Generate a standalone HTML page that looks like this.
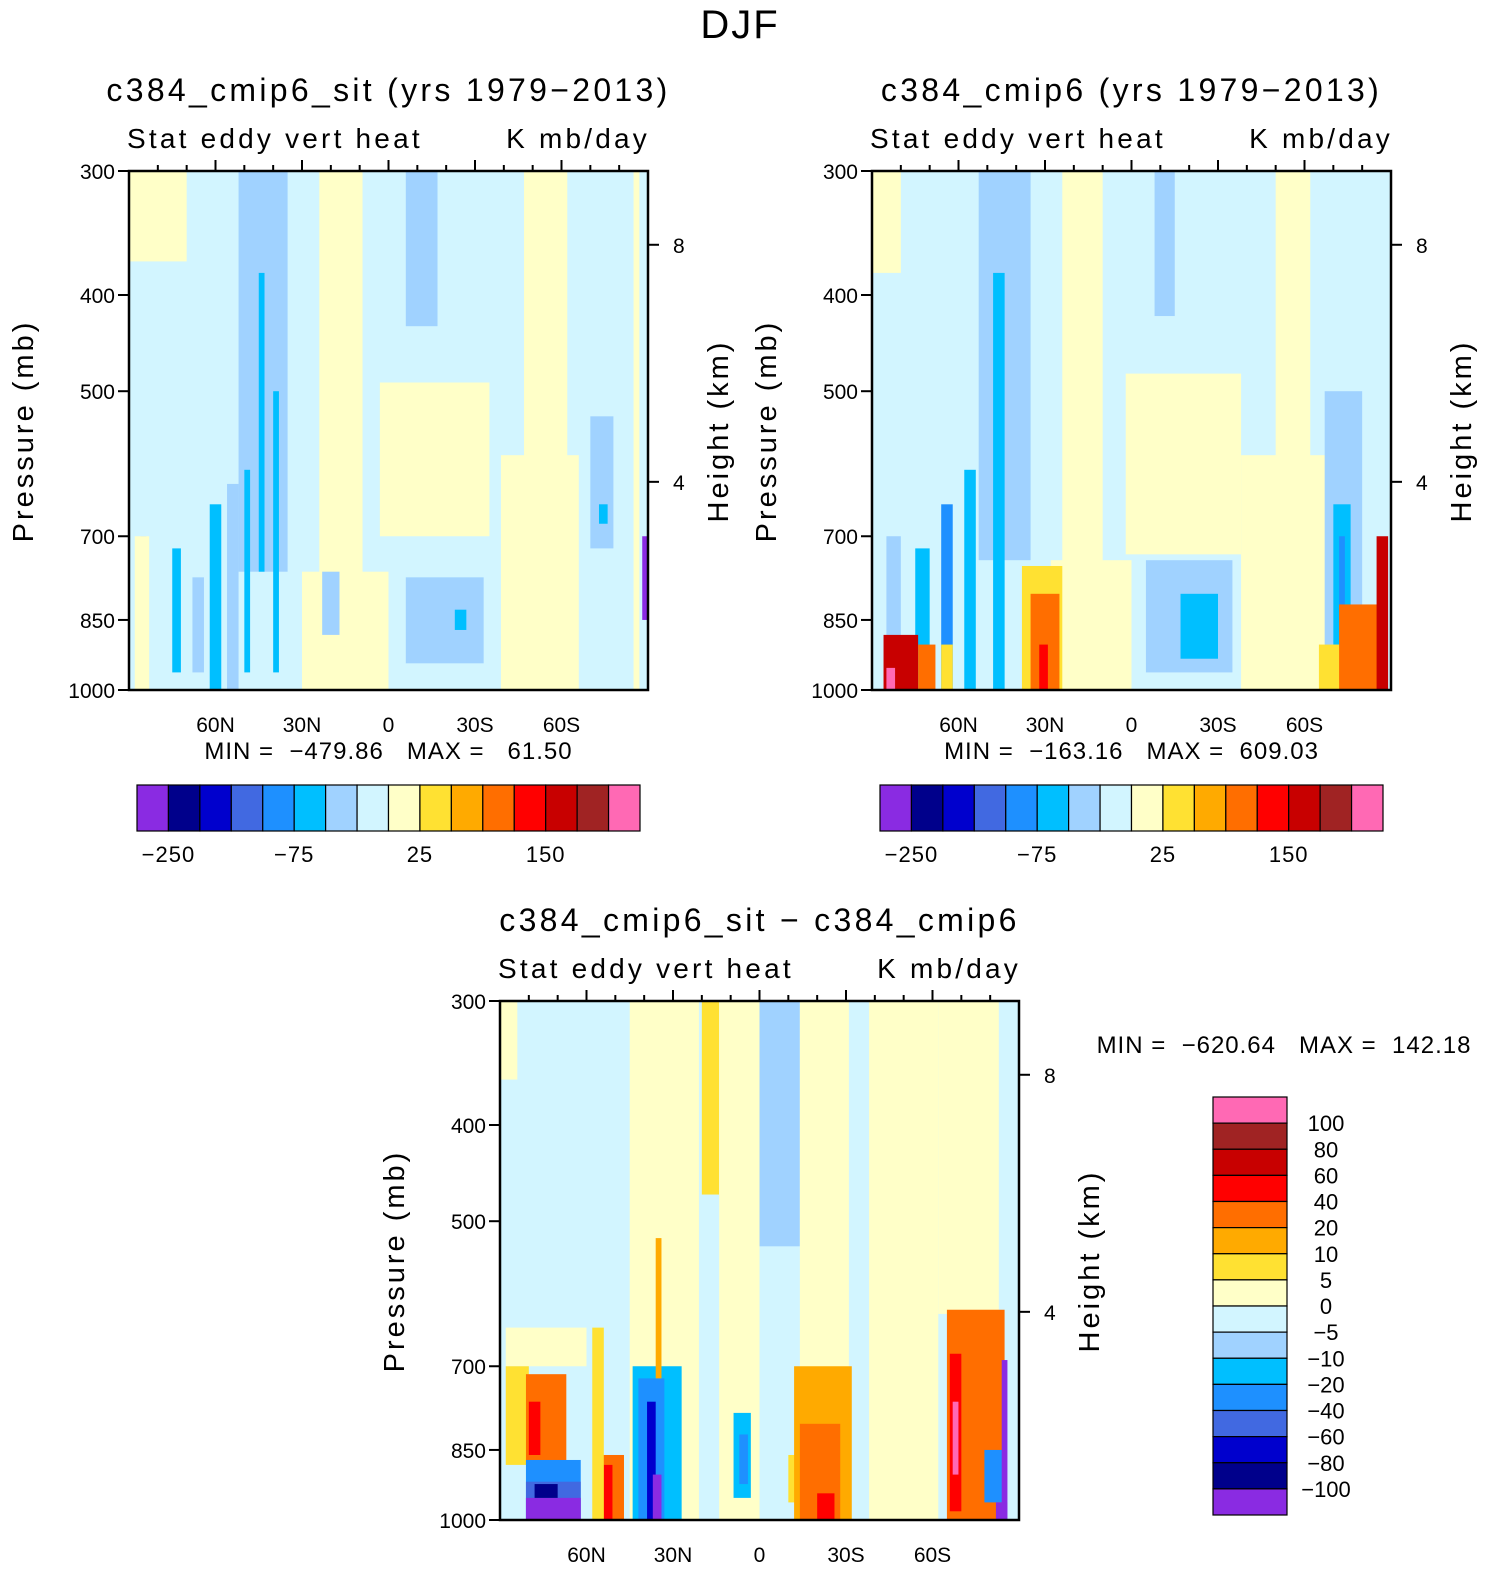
<!DOCTYPE html>
<html><head><meta charset="utf-8">
<style>
body{margin:0;background:#fff;}
svg text{font-family:"Liberation Sans",sans-serif;fill:#000;}
</style></head>
<body>
<svg id="fig" width="1505" height="1575" viewBox="0 0 1505 1575"></svg>
<script>
// ---- data ----
const palette = ["#8A2BE2","#00008B","#0000CD","#4169E1","#1E90FF","#00BFFF","#A0D2FF","#D2F5FF","#FFFFC8","#FFE132","#FFAA00","#FF6E00","#FF0000","#C80000","#A02323","#FF69B4"];
const latTicks = [60,30,0,-30,-60];
const latTickLabels = ["60N","30N","0","30S","60S"];
const pTicks = [300,400,500,700,850,1000];
const heightTicks = [8,4];
const heightPressure = [356,617];
const topBarLabels = ["-250","-75","25","150"];
const topBarLabelIdx = [1,5,9,13];
const diffLevels = ["100","80","60","40","20","10","5","0","-5","-10","-20","-40","-60","-80","-100"];
// field patches: [lat1, lat2, pTop, pBottom, colorIndex]
const fieldA = [
 [90,70,300,370,8],[52,35,300,760,6],[24,9,300,1000,8],[30,0,760,1000,8],
 [-6,-17,300,430,6],[3,-35,490,700,8],[-47,-62,300,1000,8],[-39,-66,580,1000,8],
 [-6,-33,770,940,6],[-23,-27,830,870,5],[23,17,760,880,6],
 [86,84,700,1000,6],[75,72,720,960,5],[68,64,770,960,6],[62,58,650,1000,5],[56,52,620,1000,6],
 [50,48,600,960,5],[45,43,380,760,5],[40,38,500,960,5],[88,83,700,1000,8],
 [-70,-78,530,720,6],[-73,-76,650,680,5],[-85,-87,300,1000,8],[-88,-90,700,850,0]
];
const fieldB = [
 [90,80,300,380,8],[53,35,300,740,6],[24,10,300,1000,8],[28,0,740,1000,8],
 [-8,-15,300,420,6],[2,-38,480,730,8],[-50,-62,300,1000,8],[-38,-70,580,1000,8],
 [-5,-35,740,960,6],[-17,-30,800,930,5],
 [85,80,700,1000,6],[75,70,720,1000,5],[66,62,650,1000,4],[58,54,600,1000,5],[48,44,380,1000,5],
 [86,74,880,1000,13],[85,82,950,1000,15],[74,68,900,1000,11],[66,62,900,1000,9],
 [38,24,750,1000,9],[35,25,800,1000,11],[32,29,900,1000,12],
 [-67,-80,500,930,6],[-70,-76,650,900,5],[-72,-74,700,850,4],[-65,-75,900,1000,9],[-72,-88,820,1000,11],[-85,-89,700,1000,13]
];
const fieldD = [
 [90,84,300,360,8],[45,21,300,1000,8],[20,14,300,470,9],[14,0,300,1000,8],[0,-14,300,530,6],
 [-14,-31,300,1000,8],[-38,-62,300,1000,8],[-62,-83,300,620,8],[88,60,640,700,8],
 [88,80,700,880,9],[81,67,713,880,11],[80,76,760,860,12],
 [81,62,870,1000,4],[81,62,915,1000,3],[81,62,950,1000,0],[78,70,920,950,1],
 [56,47,860,1000,11],[54,51,880,1000,12],[58,54,640,1000,9],
 [44,27,700,1000,5],[42,33,720,1000,4],[39,36,760,1000,2],[37,34,900,1000,0],
 [36,34,520,720,10],[9,3,780,950,5],[7,4,820,920,4],[-10,-14,860,960,9],
 [-12,-32,700,1000,10],[-14,-28,800,1000,11],[-20,-26,940,1000,12],
 [-65,-85,614,1000,11],[-66,-70,680,980,12],[-67,-69,760,900,15],
 [-78,-85,850,960,4],[-82,-86,960,1000,0],[-84,-86,690,1000,0],[-86,-90,640,1000,7]
];
// ---- drawing ----
const svg = document.getElementById('fig');
const NS = "http://www.w3.org/2000/svg";
function mk(tag, attrs, parent){const e=document.createElementNS(NS,tag);for(const k in attrs)e.setAttribute(k,attrs[k]);(parent||svg).appendChild(e);return e;}
function txt(s,x,y,size,anchor,parent,rot){const t=mk('text',{x:x,y:y,'font-size':size,'text-anchor':anchor||'middle'},parent);if(rot)t.setAttribute('transform','rotate(-90 '+x+' '+y+')');t.textContent=s.replace(/-/g,'\u2212');return t;}

const title = txt("DJF",740,38,40);


title.setAttribute('letter-spacing','2');

function panel(name,x0,y0,field,ttl,minmax){
  const w=519,h=519;
  const g=mk('g',{});
  
  
  const X=lat=>x0+(90-lat)/180*w;
  const Y=p=>y0+Math.log(p/300)/Math.log(1000/300)*h;
  const base=mk('rect',{x:x0,y:y0,width:w,height:h,fill:palette[7]},g);
  
  
  field.forEach(f=>{
    const r=mk('rect',{x:X(f[0]),y:Y(f[2]),width:X(f[1])-X(f[0]),height:Y(f[3])-Y(f[2]),fill:palette[f[4]]},g);
    
    
  });
  const fr=mk('rect',{x:x0,y:y0,width:w,height:h,fill:'none',stroke:'#000','stroke-width':2.5},g);
  
  
  for(let lat=80;lat>=-80;lat-=10){
    const major=latTicks.indexOf(lat)>=0;
    mk('line',{x1:X(lat),x2:X(lat),y1:y0,y2:y0-(major?11:6),stroke:'#000','stroke-width':2},g);
  }
  latTicks.forEach((lat,i)=>{
    const t=txt(latTickLabels[i],X(lat),y0+h+42,21,'middle',g);
    
    
  });
  pTicks.forEach(p=>{
    mk('line',{x1:x0-11,x2:x0,y1:Y(p),y2:Y(p),stroke:'#000','stroke-width':2},g);
    const t=txt(String(p),x0-14,Y(p)+8,21,'end',g);
    
    
  });
  heightTicks.forEach((z,i)=>{
    const y=Y(heightPressure[i]);
    mk('line',{x1:x0+w,x2:x0+w+11,y1:y,y2:y,stroke:'#000','stroke-width':2},g);
    const t=txt(String(z),x0+w+25,y+8,21,'start',g);
    
    
  });
  const tt=txt(ttl,x0+w/2,y0-70,32,'middle',g);
  
  
  tt.setAttribute('letter-spacing','3.3');
  const s1=txt("Stat eddy vert heat",x0-2,y0-23,28,'start',g);
  
  
  s1.setAttribute('letter-spacing','3.2');
  const s2=txt("K mb/day",x0+w+2,y0-23,28,'end',g);
  
  
  s2.setAttribute('letter-spacing','3.2');
  const yl=txt("Pressure (mb)",x0-96,y0+260,29,'middle',g,true);
  
  
  yl.setAttribute('letter-spacing','3');
  const hl=txt("Height (km)",x0+w+80,y0+260,29,'middle',g,true);
  
  
  hl.setAttribute('letter-spacing','3');
  if(minmax){
    const m=txt(minmax,x0+w/2,y0+h+69,24,'middle',g);
    
    
    m.setAttribute('letter-spacing','1');
    m.style.whiteSpace='pre';
  }
}
panel('panel-c384-cmip6-sit',129,171,fieldA,"c384_cmip6_sit (yrs 1979-2013)","MIN =  -479.86   MAX =   61.50");
panel('panel-c384-cmip6',872,171,fieldB,"c384_cmip6 (yrs 1979-2013)","MIN =  -163.16   MAX =  609.03");
panel('panel-difference',500,1001,fieldD,"c384_cmip6_sit - c384_cmip6",null);

function hbar(name,x0,y0){
  const g=mk('g',{});
  
  
  const bw=503/16;
  palette.forEach((c,i)=>{
    const r=mk('rect',{x:x0+i*bw,y:y0,width:bw,height:46,fill:c,stroke:'#000','stroke-width':1.2},g);
    
    
  });
  topBarLabels.forEach((s,i)=>{
    const t=txt(s,x0+topBarLabelIdx[i]*bw,y0+77,22,'middle',g);
    
    
    t.setAttribute('letter-spacing','1');
  });
}
hbar('colorbar-left',137,785);
hbar('colorbar-right',880,785);

const vg=mk('g',{});


const bh=418/16;
palette.slice().reverse().forEach((c,i)=>{
  const r=mk('rect',{x:1213,y:1097+i*bh,width:74,height:bh,fill:c,stroke:'#000','stroke-width':1.2},vg);
  
  
});
diffLevels.forEach((s,i)=>{
  const t=txt(s,1326,1097+(i+1)*bh+8,22,'middle',vg);
  
  
});
const mm=txt("MIN =  -620.64   MAX =  142.18",1284,1053,24,'middle');


mm.setAttribute('letter-spacing','1');
mm.style.whiteSpace='pre';
</script>
</body></html>
